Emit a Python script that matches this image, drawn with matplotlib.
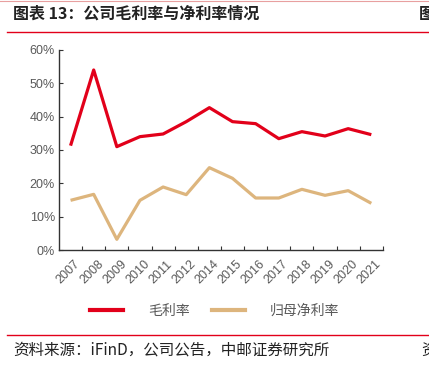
import matplotlib.pyplot as plt
from matplotlib.lines import Line2D

plt.rcParams['font.family'] = ['Noto Sans CJK SC', 'DejaVu Sans']

years = ["2007", "2008", "2009", "2010", "2011", "2012", "2014",
         "2015", "2016", "2017", "2018", "2019", "2020", "2021"]
gross_margin = [31.3, 54.0, 31.0, 34.0, 34.8, 38.5, 42.7,
                38.5, 37.9, 33.4, 35.5, 34.2, 36.4, 34.6]
net_margin = [14.9, 16.7, 3.2, 14.9, 18.9, 16.6, 24.7,
              21.5, 15.6, 15.6, 18.2, 16.4, 17.8, 14.0]
yticks = [0, 10, 20, 30, 40, 50, 60]

RED = "#E2001A"
TAN = "#DDB57D"
GRAY = "#595959"

fig = plt.figure(figsize=(4.29, 3.67), dpi=100)
ax = fig.add_axes([0.1375, 0.3188, 0.755, 0.545])

x = range(len(years))
ax.plot(x, gross_margin, color=RED, lw=2.3, solid_capstyle="butt")
ax.plot(x, net_margin, color=TAN, lw=2.3, solid_capstyle="butt")

ax.set_ylim(0, 60)
ax.set_xlim(-0.5, len(years) - 0.5)
ax.set_yticks(yticks)
ax.set_yticklabels([f"{v}%" for v in yticks], family="Liberation Sans",
                   fontsize=9, color=GRAY)
ax.set_xticks([i - 0.5 for i in range(1, len(years) + 1)])
ax.set_xticklabels([])
ax.tick_params(axis="both", direction="in", length=3, width=0.8, color="#333333")
ax.tick_params(axis="y", pad=3)
for i, yr in enumerate(years):
    ax.text(i + 0.15, -2.5, yr, rotation=45, ha="right", va="top",
            rotation_mode="anchor", fontsize=9, color=GRAY,
            family="Liberation Sans")

for s in ["top", "right"]:
    ax.spines[s].set_visible(False)
for s in ["left", "bottom"]:
    ax.spines[s].set_color("#333333")
    ax.spines[s].set_linewidth(1.0)

handles = [Line2D([], [], color=RED, lw=3),
           Line2D([], [], color=TAN, lw=3)]
fig.legend(handles, ["毛利率", "归母净利率"], loc="center",
           bbox_to_anchor=(0.5, 0.152), ncol=2, frameon=False,
           fontsize=10, labelcolor=GRAY, handlelength=2.4,
           handletextpad=1.8, columnspacing=1.6)

# header and footer (the right-hand characters are cut off in the original too)
fig.text(13 / 429, 1 - 14 / 367, "图表 13：公司毛利率与净利率情况", fontsize=11.5,
         fontweight="bold", va="center", ha="left", color="#222222")
fig.text(419 / 429, 1 - 14 / 367, "图", fontsize=11.5, fontweight="bold",
         va="center", ha="left", color="#222222")
fig.text(13 / 429, 1 - 350 / 367, "资料来源：iFinD，公司公告，中邮证券研究所",
         fontsize=11.2, va="center", ha="left", color="#222222")
fig.text(421 / 429, 1 - 350 / 367, "资", fontsize=11.2, va="center",
         ha="left", color="#222222")
fig.add_artist(Line2D([7 / 429, 1], [1 - 32 / 367] * 2, color=RED, lw=1.0))
fig.add_artist(Line2D([7 / 429, 1], [1 - 334.5 / 367] * 2, color=RED, lw=1.0))
fig.add_artist(Line2D([0, 1], [1 - 0.5 / 367] * 2, color="#E8A0A0", lw=0.8))

fig.savefig("out.png", dpi=100)
